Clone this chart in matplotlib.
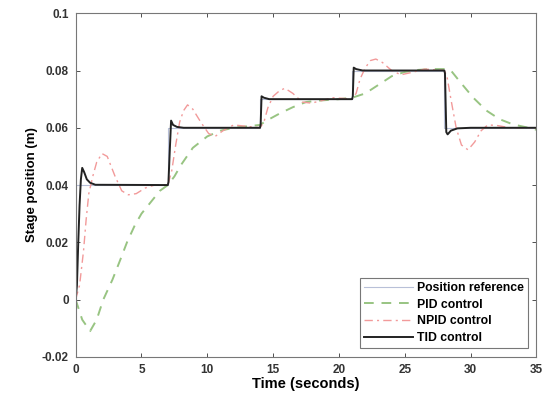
import matplotlib
matplotlib.use("Agg")
import matplotlib.pyplot as plt

# Position reference (step levels)
ref_t = [0, 0, 7, 7, 14, 14, 21, 21, 28, 28, 35]
ref_v = [0, 0.04, 0.04, 0.06, 0.06, 0.07, 0.07, 0.08, 0.08, 0.06, 0.06]

# PID control
pid_t = [0, 0.5, 1.1, 1.6, 2.1, 2.8, 3.4, 3.9, 4.5, 5.0, 5.7, 6.4, 7.0, 7.5, 8.0, 8.9,
         10.0, 11.0, 12.0, 13.0, 14.0, 14.5, 15.5, 16.5, 17.5, 18.5, 20.0, 21.0, 22.0,
         23.0, 24.0, 25.0, 26.0, 27.0, 28.0, 28.5, 29.2, 30.2, 31.2, 32.2, 33.2, 34.2, 35.0]
pid_v = [0, -0.007, -0.011, -0.007, 0.0, 0.007, 0.014, 0.02, 0.026, 0.030, 0.034, 0.038,
         0.040, 0.043, 0.047, 0.053, 0.057, 0.059, 0.060, 0.0605, 0.061, 0.0625, 0.065,
         0.0672, 0.069, 0.0695, 0.0700, 0.0705, 0.072, 0.075, 0.078, 0.0795, 0.0802,
         0.0805, 0.0805, 0.080, 0.076, 0.0705, 0.066, 0.063, 0.0612, 0.0602, 0.0593]

# NPID control
npid_t = [0, 0.3, 0.6, 0.8, 1.0, 1.3, 1.6, 2.0, 2.4, 3.0, 3.5, 4.0, 4.6, 5.3, 6.0, 7.0,
          7.3, 7.6, 7.9, 8.2, 8.5, 8.9, 9.5, 10.1, 10.6, 11.2, 12.0, 13.0, 14.0,
          14.3, 14.6, 15.0, 15.5, 15.9, 16.5, 17.2, 17.9, 18.7, 19.5, 20.5, 21.0,
          21.3, 21.6, 22.0, 22.4, 22.8, 23.3, 24.0, 24.7, 25.5, 26.5, 28.0,
          28.2, 28.5, 28.9, 29.3, 29.8, 30.3, 30.8, 31.3, 32.0, 33.0, 35.0]
npid_v = [0, 0.005, 0.017, 0.028, 0.037, 0.043, 0.048, 0.051, 0.050, 0.043, 0.038,
          0.0366, 0.037, 0.039, 0.040, 0.040,
          0.045, 0.054, 0.062, 0.066, 0.068, 0.0665, 0.062, 0.058, 0.057, 0.059, 0.061,
          0.0605, 0.060,
          0.062, 0.067, 0.071, 0.073, 0.0738, 0.072, 0.069, 0.0686, 0.0695, 0.0705,
          0.0702, 0.070,
          0.072, 0.077, 0.081, 0.0835, 0.084, 0.0828, 0.080, 0.0785, 0.0793, 0.0805,
          0.080,
          0.078, 0.070, 0.060, 0.054, 0.0523, 0.055, 0.059, 0.061, 0.0608, 0.060, 0.060]

# TID control
tid_t = [0, 0.1, 0.2, 0.3, 0.4, 0.5, 0.65, 0.85, 1.1, 1.5, 7.0, 7.05, 7.15, 7.25, 7.4,
         7.7, 8.2, 14.0, 14.05, 14.12, 14.3, 14.7, 21.0, 21.05, 21.12, 21.3, 21.8,
         28.0, 28.05, 28.15, 28.25, 28.5, 29.0, 30.0, 35.0]
tid_v = [0, 0.005, 0.02, 0.033, 0.042, 0.046, 0.0445, 0.042, 0.0408, 0.0401, 0.040,
         0.041, 0.052, 0.0625, 0.061, 0.0603, 0.060, 0.060, 0.061, 0.071, 0.0705,
         0.070, 0.070, 0.071, 0.081, 0.0805, 0.080, 0.080, 0.079, 0.0585, 0.0577,
         0.059, 0.0598, 0.060, 0.060]

x_ticks = [0, 5, 10, 15, 20, 25, 30, 35]
y_ticks = [-0.02, 0, 0.02, 0.04, 0.06, 0.08, 0.1]
y_tick_labels = ["-0.02", "0", "0.02", "0.04", "0.06", "0.08", "0.1"]

plt.rcParams['font.family'] = ['Liberation Sans', 'DejaVu Sans']
plt.rcParams['font.weight'] = 'bold'

fig = plt.figure(figsize=(5.48, 4.01), dpi=100)
ax = fig.add_axes([0.138, 0.110, 0.841, 0.857])

ax.plot(ref_t, ref_v, color='#b8c0d8', lw=0.8, label='Position reference')
ax.plot(pid_t, pid_v, color='#98c482', lw=1.4, ls=(0, (5, 4)), label='PID control')
ax.plot(npid_t, npid_v, color='#f29a9a', lw=1.0, ls=(0, (6, 3, 1.5, 3)), label='NPID control')
ax.plot(tid_t, tid_v, color='#222222', lw=1.4, label='TID control')

ax.set_xlim(0, 35)
ax.set_ylim(-0.02, 0.1)
ax.set_xticks(x_ticks)
ax.set_yticks(y_ticks)
ax.set_yticklabels(y_tick_labels)
ax.tick_params(direction='in', top=True, right=True, labelsize=8.5, colors='#333333',
               length=3, width=0.6, pad=5)
for lab in ax.get_xticklabels() + ax.get_yticklabels():
    lab.set_fontweight('bold')
for s in ax.spines.values():
    s.set_color('#777777')
    s.set_linewidth(0.8)

ax.set_xlabel('Time (seconds)', fontsize=10.5, fontweight='bold', labelpad=1)
ax.set_ylabel('Stage position (m)', fontsize=9.5, fontweight='bold', labelpad=3)

leg = ax.legend(loc='lower right', fontsize=8.8, frameon=True, fancybox=False,
                edgecolor='#555555', borderpad=0.35, labelspacing=0.38,
                handlelength=4.0, handletextpad=0.3, borderaxespad=0.7)
leg.get_frame().set_linewidth(0.8)
for t in leg.get_texts():
    t.set_fontweight('bold')

fig.savefig('out.png', dpi=100)
